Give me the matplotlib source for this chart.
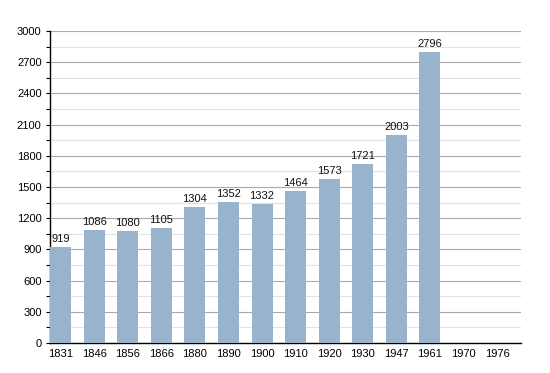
import matplotlib
matplotlib.use("Agg")
import matplotlib.pyplot as plt
import numpy as np

plt.rcParams["font.family"] = ["Liberation Sans", "DejaVu Sans"]

years = ["1831", "1846", "1856", "1866", "1880", "1890", "1900", "1910", "1920", "1930", "1947", "1961", "1970", "1976"]
population = [919, 1086, 1080, 1105, 1304, 1352, 1332, 1464, 1573, 1721, 2003, 2796, None, None]

fig = plt.figure(figsize=(5.5, 3.73), dpi=100)
ax = fig.add_axes([50/550, 1-343/373, 471/550, 312/373])

x = np.arange(len(years))
for i, v in enumerate(population):
    if v is None:
        continue
    ax.bar(i, v, width=0.625, color="#9ab3cc", zorder=3)
    ax.text(i, v + 30, str(v), ha="center", va="bottom", fontsize=8, color="#111111", zorder=4)

ax.set_xlim(-0.3125, 13.71)
ax.set_ylim(0, 3000)
ax.set_yticks(np.arange(0, 3001, 300))
ax.set_yticks(np.arange(150, 3000, 300), minor=True)
ax.grid(axis="y", which="major", color="#aaaaaa", linewidth=0.8, zorder=0)
ax.grid(axis="y", which="minor", color="#e2e2e2", linewidth=0.8, zorder=0)
ax.set_xticks(x)
ax.set_xticklabels(years, fontsize=8)
ax.tick_params(axis="x", length=0, pad=4)
ax.tick_params(axis="y", which="both", length=3, width=0.8, labelsize=8, pad=3)
for s in ["top", "right"]:
    ax.spines[s].set_visible(False)
ax.spines["left"].set_linewidth(1)
ax.spines["bottom"].set_linewidth(1)
ax.set_axisbelow(True)

fig.savefig("out.png", dpi=100)
